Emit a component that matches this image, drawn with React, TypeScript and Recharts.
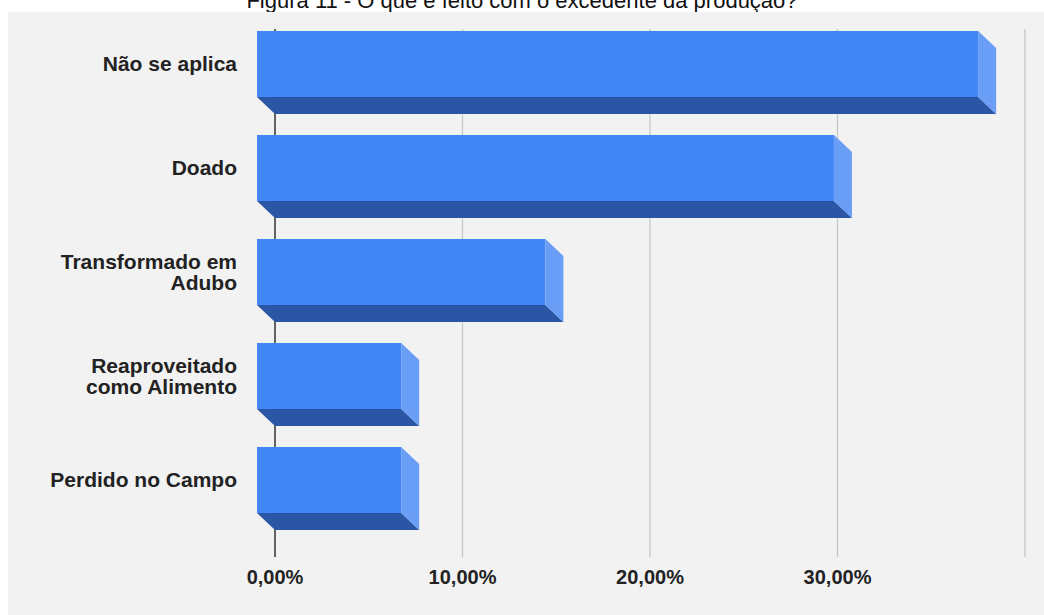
import { BarChart, Bar, XAxis, YAxis, CartesianGrid } from 'recharts';

const categories = [
  'Não se aplica',
  'Doado',
  'Transformado em Adubo',
  'Reaproveitado como Alimento',
  'Perdido no Campo',
];
const shares = [0.3846, 0.3077, 0.1538, 0.0769, 0.0769];
const labelLines = [
  ['Não se aplica'],
  ['Doado'],
  ['Transformado em', 'Adubo'],
  ['Reaproveitado', 'como Alimento'],
  ['Perdido no Campo'],
];
const xTicks = [0, 0.1, 0.2, 0.3, 0.4];
const xTickLabels = ['0,00%', '10,00%', '20,00%', '30,00%', ''];

const chartData = categories.map((name, i) => ({ name, value: shares[i] }));

const FONT = '"Liberation Sans", Arial, sans-serif';
const DX = 18;
const DY = 17;

function Bar3D(props: any) {
  const { x, y, width, height } = props;
  if (width <= 0) return null;
  const fx = x - DX;
  const fy = y - DY;
  return (
    <g>
      <rect x={fx} y={fy} width={width} height={height} fill="#4285f4" />
      <polygon
        points={`${fx},${fy + height} ${fx + width},${fy + height} ${x + width},${y + height} ${x},${y + height}`}
        fill="#2b55a5"
      />
      <polygon
        points={`${fx + width},${fy} ${x + width},${y} ${x + width},${y + height} ${fx + width},${fy + height}`}
        fill="#6a9df6"
      />
    </g>
  );
}

function CategoryTick(props: any) {
  const { x, y, index } = props;
  const lines = labelLines[index] || [props.payload.value];
  const lh = 21;
  const startY = y - DY - ((lines.length - 1) * lh) / 2 + 7;
  return (
    <text
      x={x}
      y={startY}
      textAnchor="end"
      fill="#222"
      fontSize={21}
      fontWeight={700}
      fontFamily={FONT}
    >
      {lines.map((l: string, i: number) => (
        <tspan key={i} x={x} y={startY + i * lh}>
          {l}
        </tspan>
      ))}
    </text>
  );
}

function GridLine(props: any) {
  const { x1, y1, x2, y2, index } = props;
  const isZero = index === 0;
  return (
    <line
      x1={x1}
      y1={y1}
      x2={x2}
      y2={y2}
      stroke={isZero ? '#333333' : '#c6c6c6'}
      strokeWidth={isZero ? 1.5 : 1.3}
    />
  );
}

export default function App() {
  return (
    <div
      style={{
        position: 'absolute',
        left: 0,
        top: 0,
        width: 1044,
        height: 615,
        background: '#ffffff',
        overflow: 'hidden',
      }}
    >
      <div
        style={{
          position: 'absolute',
          left: 0,
          top: -10,
          width: 1044,
          textAlign: 'center',
          fontFamily: FONT,
          fontSize: 22,
          lineHeight: '22px',
          color: '#111',
        }}
      >
        Figura 11 - O que é feito com o excedente da produção?
      </div>
      <div
        style={{
          position: 'absolute',
          left: 8,
          top: 12,
          width: 1036,
          height: 603,
          background: '#f2f2f2',
        }}
      >
        <BarChart
          width={1036}
          height={603}
          data={chartData}
          layout="vertical"
          margin={{ top: 17, right: 19, bottom: 0, left: 0 }}
        >
          <CartesianGrid horizontal={false} vertical={GridLine} />
          <XAxis
            type="number"
            domain={[0, 0.4]}
            ticks={xTicks}
            interval={0}
            axisLine={false}
            tickLine={false}
            tickSize={0}
            tickMargin={13}
            height={58}
            tickFormatter={(v: number) => xTickLabels[xTicks.indexOf(v)] ?? ''}
            tick={{ fill: '#222', fontSize: 20, fontWeight: 700, fontFamily: FONT }}
          />
          <YAxis
            type="category"
            dataKey="name"
            width={267}
            axisLine={false}
            tickLine={false}
            tickSize={0}
            tickMargin={38}
            interval={0}
            padding={{ top: 0, bottom: 8 }}
            tick={<CategoryTick />}
          />
          <Bar dataKey="value" barSize={66} shape={<Bar3D />} isAnimationActive={false} />
        </BarChart>
      </div>
    </div>
  );
}
